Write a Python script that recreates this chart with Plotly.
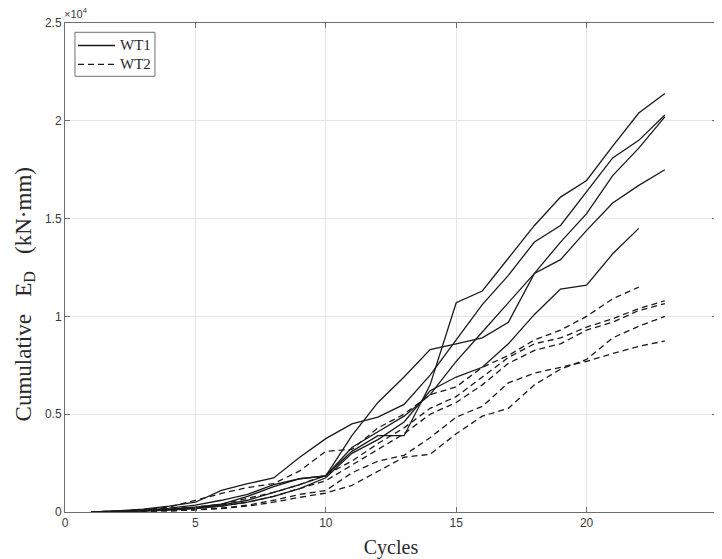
import plotly.graph_objects as go

cycles = list(range(1, 24))

# WT1 (solid) cumulative dissipated energy, kN·mm
wt1_a = [0, 30, 80, 150, 250, 400, 800, 1300, 1700, 1850, 3100, 3900, 3900, 6500, 10700, 11300, 13000, 14650, 16100, 16950, 18700, 20400, 21400]
wt1_b = [0, 50, 150, 300, 500, 1100, 1450, 1740, 2800, 3750, 4500, 4850, 5500, 7000, 8800, 10600, 12100, 13800, 14650, 16400, 18100, 19000, 20300]
wt1_c = [0, 20, 60, 120, 200, 350, 600, 1000, 1400, 1850, 3300, 4100, 4900, 6000, 7700, 9200, 10700, 12200, 13800, 15250, 17200, 18600, 20200]
wt1_d = [0, 30, 100, 200, 350, 600, 900, 1400, 1700, 1850, 3900, 5600, 6900, 8300, 8600, 8900, 9700, 12200, 12900, 14400, 15800, 16700, 17500]
wt1_e = [0, 20, 50, 100, 180, 300, 500, 800, 1200, 1750, 3000, 3700, 4600, 6200, 6900, 7400, 8600, 10100, 11400, 11600, 13200, 14500]

# WT2 (dashed)
wt2_a = [0, 40, 120, 250, 600, 950, 1250, 1450, 2100, 3100, 3200, 4300, 5000, 6000, 6400, 7400, 8000, 8800, 9300, 10000, 10900, 11500]
wt2_b = [0, 30, 80, 150, 250, 400, 700, 1000, 1400, 1900, 2600, 3500, 4300, 5300, 5900, 6900, 7900, 8600, 8900, 9450, 9880, 10400, 10800]
wt2_c = [0, 20, 60, 120, 200, 300, 500, 800, 1200, 1600, 2400, 3200, 4000, 5000, 5600, 6500, 7600, 8260, 8600, 9300, 9700, 10300, 10650]
wt2_d = [0, 10, 30, 60, 100, 180, 300, 500, 750, 970, 1360, 2100, 2800, 2950, 4000, 4900, 5300, 6500, 7300, 7800, 8900, 9500, 10000]
wt2_e = [0, 10, 30, 60, 120, 200, 350, 600, 900, 1100, 2000, 2600, 2900, 3800, 4850, 5400, 6600, 7100, 7400, 7700, 8100, 8470, 8740]

wt1_series = [wt1_a, wt1_b, wt1_c, wt1_d, wt1_e]
wt2_series = [wt2_a, wt2_b, wt2_c, wt2_d, wt2_e]
series_names = ["WT1", "WT2"]

x_ticks = [0, 5, 10, 15, 20, 25]
y_tickvals = [0, 5000, 10000, 15000, 20000, 25000]
y_ticktext = ["0", "0.5", "1", "1.5", "2", "2.5"]

LINE = "#1a1a1a"
DASH = "6px,4px"
SERIF = "Liberation Serif"
SANS = "Liberation Sans"
FRAME = "#6e6e6e"

fig = go.Figure()
for s in wt1_series:
    fig.add_trace(go.Scatter(x=cycles[:len(s)], y=s, mode="lines", name=series_names[0],
                             showlegend=False, line=dict(color=LINE, width=1.3, dash="solid")))
for s in wt2_series:
    fig.add_trace(go.Scatter(x=cycles[:len(s)], y=s, mode="lines", name=series_names[1],
                             showlegend=False, line=dict(color=LINE, width=1.3, dash=DASH)))

axis_common = dict(showline=True, linecolor=FRAME, linewidth=1, mirror="ticks",
                   ticks="inside", ticklen=5, tickcolor=FRAME,
                   showgrid=True, gridcolor="#e6e6e6", gridwidth=1, zeroline=False,
                   tickfont=dict(family=SANS, size=12, color="#3a3a3a"))

fig.update_xaxes(range=[0, 25], tickvals=x_ticks, **axis_common,
                 title=dict(text="Cycles", font=dict(family=SERIF, size=20, color="#2a2a2a"), standoff=10))
fig.update_yaxes(range=[0, 25000], tickvals=y_tickvals, ticktext=y_ticktext, **axis_common)

# y-axis label
fig.add_annotation(xref="paper", yref="paper", x=-0.0613, y=0.445, xanchor="center", yanchor="middle",
                   textangle=-90, showarrow=False,
                   text="Cumulative   E<sub>D</sub>   (kN·mm)",
                   font=dict(family=SERIF, size=23, color="#2a2a2a"))

# exponent marker
fig.add_annotation(xref="paper", yref="paper", x=0, y=1, xanchor="left", yanchor="bottom",
                   text="×10<sup>4</sup>", showarrow=False, yshift=1, xshift=-3,
                   font=dict(family=SANS, size=11, color="#3a3a3a"))

# legend box (drawn in plot-area paper coordinates)
fig.add_shape(type="rect", xref="paper", yref="paper", x0=0.0153, x1=0.138, y0=0.891, y1=0.981,
              line=dict(color=FRAME, width=1), fillcolor="white", layer="above")
legend_rows = [(0.954, "solid"), (0.9155, DASH)]
for (yy, dsh), nm in zip(legend_rows, series_names):
    fig.add_shape(type="line", xref="paper", yref="paper", x0=0.0199, x1=0.0767, y0=yy, y1=yy,
                  line=dict(color=LINE, width=1.3, dash=dsh), layer="above")
    fig.add_annotation(xref="paper", yref="paper", x=0.0813, y=yy, xanchor="left", yanchor="middle",
                       text=nm, showarrow=False, font=dict(family=SERIF, size=15, color="#2a2a2a"))

# page body has an 8px default margin, so the figure is sized/shifted to compensate
fig.update_layout(width=714, height=551, paper_bgcolor="white", plot_bgcolor="white",
                  margin=dict(l=57, r=5, t=15, b=47), showlegend=False)

fig.write_html("out.html")
